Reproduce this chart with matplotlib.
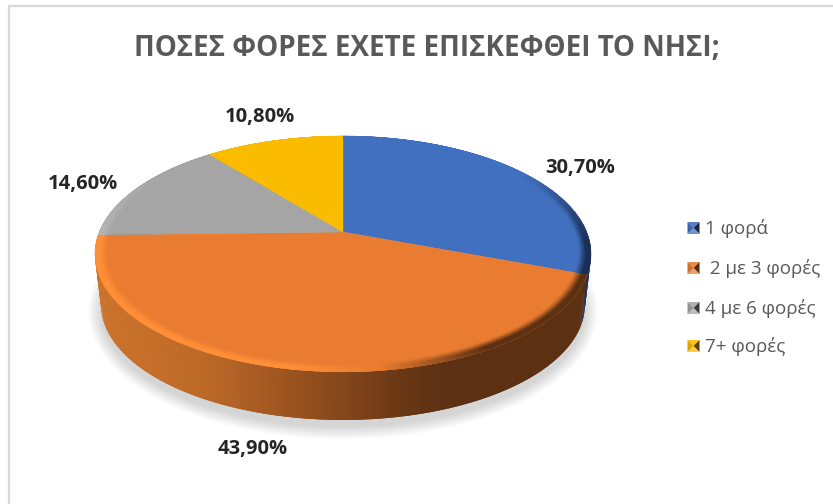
import numpy as np
import matplotlib
matplotlib.use("Agg")
import matplotlib.pyplot as plt
from matplotlib.collections import PolyCollection
from matplotlib.colors import to_rgb

plt.rcParams["font.family"] = ["Open Sans", "DejaVu Sans"]

title = "ΠΟΣΕΣ ΦΟΡΕΣ ΕΧΕΤΕ ΕΠΙΣΚΕΦΘΕΙ ΤΟ ΝΗΣΙ;"
labels = ["1 φορά", " 2 με 3 φορές", "4 με 6 φορές", "7+ φορές"]
values = [30.7, 43.9, 14.6, 10.8]
colors = ["#4270c0", "#e97c30", "#a5a5a5", "#fbbc00"]
side_dark = ["#1f3560", "#5c3012", "#555555", "#806000"]
label_xy = [(580, 168.5), (253, 449), (83, 184.5), (260, 117)]
legend_y = [228, 268, 308, 346]

# perspective pie: apex, scale and tilt of the disc, in pixels
CX, CY = 343, 232
A, B, K = 243.7, 113.9, 0.186
DEPTH, BOTTOM_SCALE = 51.5, 0.975


def disc(ang, r=1.0, scale=1.0, dy=0.0):
    # angle in degrees clockwise from the top of the disc
    u = r * np.sin(np.radians(ang))
    v = r * np.cos(np.radians(ang))
    w = 1 + K * v
    return CX + scale * A * u / w, CY + dy - scale * B * v / w


def mix(c1, c2, t):
    c1, c2 = np.array(to_rgb(c1)), np.array(to_rgb(c2))
    return tuple(c1 + (c2 - c1) * float(np.clip(t, 0, 1)))


fig = plt.figure(figsize=(8.33, 5.04), dpi=100)
ax = fig.add_axes([0, 0, 1, 1])
ax.set_xlim(0, 833)
ax.set_ylim(504, 0)
ax.axis("off")

# frame of the chart area (open on the right)
ax.plot([833, 9, 9], [6, 6, 504], color="#d9d9d9", lw=1.6, solid_capstyle="butt", zorder=0)

edges = np.concatenate([[0], np.cumsum(values)]) / sum(values) * 360

# soft shadow under the disc
full = np.linspace(0, 360, 361)
for grow in np.linspace(13, 0, 14):
    sx, sy = disc(full, scale=BOTTOM_SCALE, dy=DEPTH + 7)
    sx = CX + (sx - CX) * (1 + grow / 243)
    sy = CY + DEPTH + 30 + (sy - CY - DEPTH - 30) * (1 + grow / 118)
    ax.fill(sx, sy, color="#000000", alpha=0.012, lw=0, zorder=1)


def side_color(i, x):
    if i == 1:
        stops_x = [95, 200, 300, 400, 445, 600]
        stops_c = ["#cc732b", "#bd6a28", "#97501e", "#6a3815", "#5c3012", "#5c3012"]
        k = np.searchsorted(stops_x, x).clip(1, len(stops_x) - 1)
        t = (x - stops_x[k - 1]) / (stops_x[k] - stops_x[k - 1])
        return mix(stops_c[k - 1], stops_c[k], t)
    return to_rgb(side_dark[i])


# rim of the disc, thin overlapping quads so no seams show
quads, quad_cols = [], []
for i in range(len(values)):
    angs = np.arange(edges[i], edges[i + 1] + 0.5, 0.5)
    for a0, a1 in zip(angs[:-1], angs[1:]):
        a_end = min(a1 + 0.6, edges[i + 1])
        x0, y0 = disc(a0)
        x1, y1 = disc(a_end)
        x2, y2 = disc(a_end, scale=BOTTOM_SCALE, dy=DEPTH)
        x3, y3 = disc(a0, scale=BOTTOM_SCALE, dy=DEPTH)
        quads.append([(x0, y0), (x1, y1), (x2, y2), (x3, y3)])
        quad_cols.append(side_color(i, (x0 + x1) / 2))
ax.add_collection(PolyCollection(quads, facecolors=quad_cols, edgecolors="none", zorder=2))

# top faces
for i, val in enumerate(values):
    angs = np.linspace(edges[i], edges[i + 1], 200)
    x, y = disc(angs)
    ax.fill(np.r_[CX, x], np.r_[CY, y], color=colors[i], lw=0.3, zorder=3)


def bevel_tone(i, a, x):
    # colour the outer edge of a slice fades to
    if i == 0:
        return mix(colors[0], "#1b2f55", (a - 55) / 40)
    if i == 1:
        if x < 380:
            return mix("#ff8e38", colors[1], (x - 290) / 90)
        return mix(colors[1], "#5c3012", (x - 380) / 110)
    if i == 2:
        return mix("#b4b4b4", colors[2], (a - 270) / 35)
    return to_rgb(colors[i])


# bevel along the top edge, drawn from the outside in so the rings overlap
radii = np.linspace(0.955, 1.0, 8)
quads, quad_cols = [], []
for i in range(len(values)):
    angs = np.arange(edges[i], edges[i + 1] + 0.5, 0.5)
    for a0, a1 in zip(angs[:-1], angs[1:]):
        a_end = min(a1 + 0.6, edges[i + 1])
        xm = disc((a0 + a1) / 2)[0]
        tone = bevel_tone(i, (a0 + a1) / 2, xm)
        for r0, r1 in zip(radii[:-1], radii[1:]):
            x0, y0 = disc(a0, r0 - 0.004)
            x1, y1 = disc(a_end, r0 - 0.004)
            x2, y2 = disc(a_end, r1)
            x3, y3 = disc(a0, r1)
            t = ((r0 + r1) / 2 - radii[0]) / (radii[-1] - radii[0])
            col = mix(colors[i], tone, min(1, t * 1.6))
            quads.append([(x0, y0), (x1, y1), (x2, y2), (x3, y3)])
            quad_cols.append(col)
ax.add_collection(PolyCollection(quads, facecolors=quad_cols, edgecolors="none", zorder=4))

ax.text(427, 48, title, ha="center", va="center", fontsize=20, fontweight="bold", color="#595959")

for val, (lx, ly) in zip(values, label_xy):
    text = f"{val:.2f}".replace(".", ",") + "%"
    ax.text(lx, ly, text, ha="center", va="center", fontsize=14.5, fontweight="bold", color="#262626")

# legend with the pyramid shaded keys
for i, (lab, ly) in enumerate(zip(labels, legend_y)):
    lx, h = 693.5, 6
    base = colors[i]
    corners = [(lx - h, ly - h), (lx + h, ly - h), (lx + h, ly + h), (lx - h, ly + h)]
    shades = [mix(base, "#ffffff", 0.1), mix(base, "#000000", 0.65),
              mix(base, "#ffffff", 0.25), mix(base, "#000000", 0.12)]
    for j in range(4):
        tri = [corners[j], corners[(j + 1) % 4], (lx, ly)]
        ax.fill(*zip(*tri), color=shades[j], lw=0, zorder=3)
    ax.text(705, ly, lab, ha="left", va="center", fontsize=13.5, color="#595959")

fig.savefig("out.png", dpi=100)
